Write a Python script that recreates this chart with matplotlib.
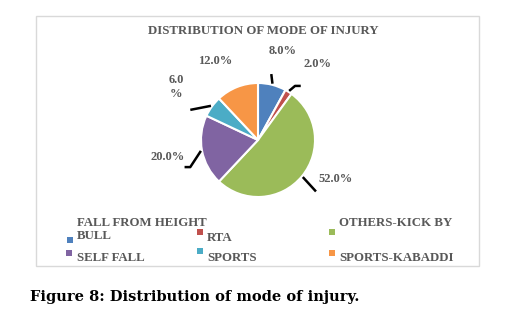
import numpy as np
import matplotlib
matplotlib.use("Agg")
import matplotlib.pyplot as plt
from matplotlib.patches import Rectangle

# data
categories = ["FALL FROM HEIGHT\nBULL", "RTA", "OTHERS-KICK BY", "SELF FALL", "SPORTS", "SPORTS-KABADDI"]
values = [8.0, 2.0, 52.0, 20.0, 6.0, 12.0]
pct_labels = ["8.0%", "2.0%", "52.0%", "20.0%", "6.0\n%", "12.0%"]
colors = ["#4F81BD", "#C0504D", "#9BBB59", "#8064A2", "#4BACC6", "#F79646"]

W, H = 514, 321
fig = plt.figure(figsize=(W / 100, H / 100), dpi=100)

def fx(x):
    return x / W

def fy(y):
    return 1 - y / H

grey = "#595959"
serif = ["Liberation Serif", "DejaVu Serif"]

# chart frame
fig.patches.append(Rectangle((fx(36), fy(266)), fx(479) - fx(36), fy(16) - fy(266),
                             transform=fig.transFigure, fill=False,
                             edgecolor="#d9d9d9", linewidth=1))

fig.text(fx(263), fy(31), "DISTRIBUTION OF MODE OF INJURY", ha="center", va="center",
         fontsize=9.3, fontweight="bold", color=grey, family=serif)

# pie axes: centre (258,140), radius 57 px, limits -2..2
cx, cy, r = 258, 140, 57
ax = fig.add_axes([fx(cx - 2 * r), fy(cy + 2 * r), 4 * r / W, 4 * r / H])

wedges, _ = ax.pie(values, colors=colors, startangle=90, counterclock=False,
                   radius=1, wedgeprops=dict(edgecolor="white", linewidth=1.5))
ax.set_xlim(-2, 2)
ax.set_ylim(-2, 2)
ax.set_aspect("equal")
ax.axis("off")

# label placement (offsets in radii) and leader line shape (outer radius, angle shift, end tick)
label_pos = [(0.44, 1.56), (1.04, 1.33), (1.37, -0.68), (-1.58, -0.30), (-1.44, 0.93), (-0.75, 1.39)]
leader = [(1.18, 3, 0.0), (1.15, -2, 0.1), (1.36, -2, 0.0), (1.28, 11, -0.1), (1.30, 12, 0.0), None]

for w, lab, pos, ld in zip(wedges, pct_labels, label_pos, leader):
    mid = (w.theta1 + w.theta2) / 2
    ang = np.deg2rad(mid)
    if ld is not None:
        r_out, dang, tick = ld
        ang2 = np.deg2rad(mid + dang)
        x0, y0 = 1.02 * np.cos(ang), 1.02 * np.sin(ang)
        x1, y1 = r_out * np.cos(ang2), r_out * np.sin(ang2)
        xs, ys = [x0, x1], [y0, y1]
        if tick:
            xs.append(x1 + tick)
            ys.append(y1)
        ax.plot(xs, ys, color="black", linewidth=1.8, solid_capstyle="butt", clip_on=False)
    ax.text(pos[0], pos[1], lab, ha="center", va="center", fontsize=9,
            fontweight="bold", color=grey, family=serif, linespacing=1.3)

# legend
marker_xy = [(67, 237), (197, 229), (329, 229), (66, 250), (197, 248), (329, 250)]
text_xy = [(77, 217), (207, 232), (339, 217), (77, 252), (207, 252), (339, 252)]
for c, lab, m, t in zip(colors, categories, marker_xy, text_xy):
    fig.patches.append(Rectangle((fx(m[0]), fy(m[1] + 6)), 6 / W, 6 / H,
                                 transform=fig.transFigure, facecolor=c, edgecolor="none"))
    fig.text(fx(t[0]), fy(t[1]), lab, ha="left", va="top", fontsize=9.3,
             fontweight="bold", color=grey, family=serif, linespacing=1.15)

fig.text(fx(30), fy(297), "Figure 8: Distribution of mode of injury.", ha="left", va="center",
         fontsize=10.5, fontweight="bold", color="black", family=["DejaVu Serif"])

fig.savefig("out.png", dpi=100)
